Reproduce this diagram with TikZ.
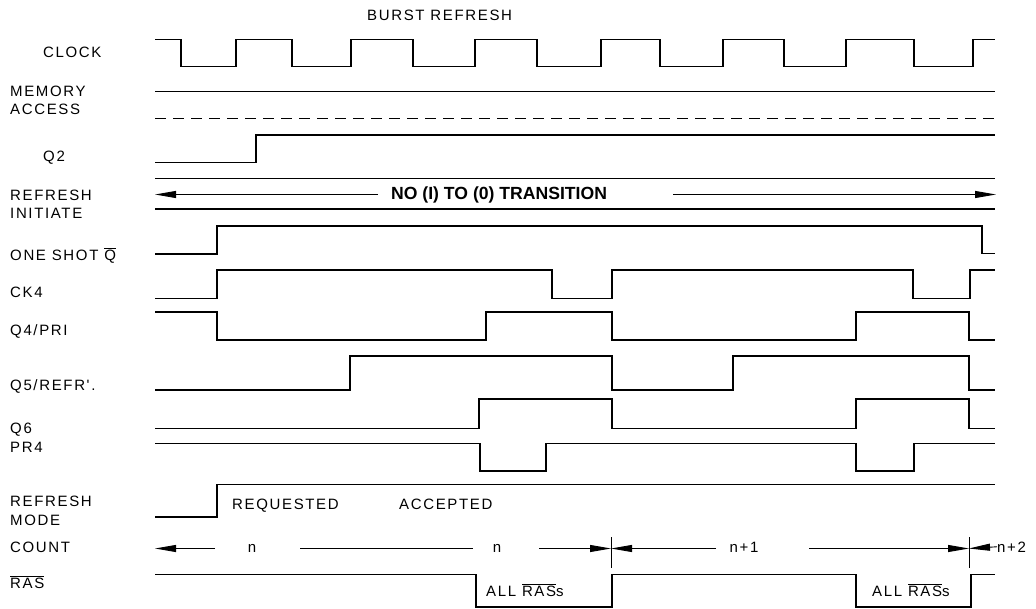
\documentclass[tikz,border=0pt]{standalone}
\usepackage{fontspec}
\newfontfamily\lblfont{Liberation Sans}[LetterSpace=11]
\newfontfamily\boldfont{Liberation Sans}
\usetikzlibrary{arrows.meta}
\newcommand\ovl[1]{$\overline{\mbox{#1}}$}

\begin{document}
\begin{tikzpicture}[x=1pt, y=-1pt,
	sig/.style={line width=1.6pt},
	lbl/.style={anchor=base west, inner sep=0pt, align=left, font=\lblfont\fontsize{15}{18.5}\selectfont},
	cnt/.style={line width=0.9pt, -{Triangle[length=21pt,width=7pt]}},
	tick/.style={line width=0.9pt}]
		\useasboundingbox (0,0) rectangle (1036,609);
		%Überschrift
		\node (burst) [lbl] at (367,21) {BURST REFRESH};
		%Beschriftung links (Grundlinie der letzten Zeile)
		\node (clk) [lbl] at (43,57.5) {CLOCK};
		\node (mem) [lbl] at (10,115) {MEMORY\\ACCESS};
		\node (qtwo) [lbl] at (43,161.5) {Q2};
		\node (rinit) [lbl] at (10,219) {REFRESH\\INITIATE};
		\node (oneshot) [lbl] at (10,260.5) {ONE SHOT \ovl{Q}};
		\node (ckfour) [lbl] at (10,297.5) {CK4};
		\node (qfour) [lbl] at (10,336) {Q4/PRI};
		\node (qfive) [lbl] at (10,390.5) {Q5/REFR'.};
		\node (qsix) [lbl] at (10,452) {Q6\\PR4};
		\node (rmode) [lbl] at (10,525) {REFRESH\\MODE};
		\node (count) [lbl] at (10,552) {COUNT};
		\node (ras) [lbl] at (10,588) {\ovl{RAS}};
		%Signale
		\draw[sig] (155,39.5) -| (181,66.5) -| (236,39.5) -| (292,66.5) -| (351,39.5) -| (413,66.5) -| (475,39.5) -| (537,66.5) -| (601,39.5) -| (660,66.5) -| (723,39.5) -| (784,66.5) -| (846,39.5) -| (914,66.5) -| (973,39.5) -- (995,39.5);
		\draw[sig] (155,91.5) -- (995,91.5);
		\draw[line width=1.1pt, dash pattern=on 11pt off 7pt] (155,118.5) -- (995,118.5);
		\draw[sig] (155,162.5) -| (256,135) -- (995,135);
		\draw[sig] (155,178.5) -- (995,178.5);
		\draw[sig] (155,209) -- (995,209);
		\draw[sig] (155,254) -| (217,226) -| (982,253.5) -- (995,253.5);
		\draw[sig] (155,298.5) -| (217,270) -| (552,298.5) -| (612,270) -| (913,298.5) -| (970,270) -- (995,270);
		\draw[sig] (155,312) -| (217,340) -| (486,312) -| (612,340) -| (856,312) -| (969,340) -- (995,340);
		\draw[sig] (155,390) -| (350,356) -| (612,390) -| (733,356) -| (969,390) -- (995,390);
		\draw[sig] (155,428.5) -| (479,399) -| (612,428.5) -| (856,399) -| (969,428.5) -- (995,428.5);
		\draw[sig] (155,443.5) -| (480,471) -| (546,443.5) -| (856,471) -| (914,443.5) -- (995,443.5);
		\draw[sig] (155,517) -| (217,484.5) -- (995,484.5);
		\draw[sig] (155,574.5) -| (476,607) -| (612,574.5) -| (856,607) -| (971,574.5) -- (995,574.5);
		%Refresh initiate
		\node (notrans) [anchor=base west, inner sep=0pt, font=\boldfont\bfseries\fontsize{17.6}{20}\selectfont] at (391,199.3) {NO (I) TO (0) TRANSITION};
		\draw[cnt] (378,194.5) -- (155,194.5);
		\draw[cnt] (673,194.5) -- (996,194.5);
		%Refresh mode
		\node (req) [lbl] at (232,509.3) {REQUESTED};
		\node (acc) [lbl] at (399,509.3) {ACCEPTED};
		%Count
		\coordinate (markA) at (611,548.5);
		\coordinate (markB) at (969,548.5);
		\draw[tick] (611,537) -- (611,568);
		\draw[tick] (969,537) -- (969,568);
		\node (cn) [lbl, anchor=base] at (252,552) {n};
		\node (cnn) [lbl, anchor=base] at (497,552) {n};
		\node (cnone) [lbl, anchor=base] at (744,552) {n+1};
		\node (cntwo) [lbl] at (997,552) {n+2};
		\draw[cnt] (215,548.5) -- (155,548.5);
		\draw[tick] (300,548.5) -- (473,548.5);
		\draw[cnt] (539,548.5) -- (markA);
		\draw[cnt] (716,548.5) -- (markA);
		\draw[cnt] (809,548.5) -- (markB);
		\draw[cnt] (cntwo.west) -- (markB);
		%RAS
		\node (allA) [lbl] at (486,596) {ALL \ovl{RAS}s};
		\node (allB) [lbl] at (872,596) {ALL \ovl{RAS}s};
	\end{tikzpicture}
\end{document}
